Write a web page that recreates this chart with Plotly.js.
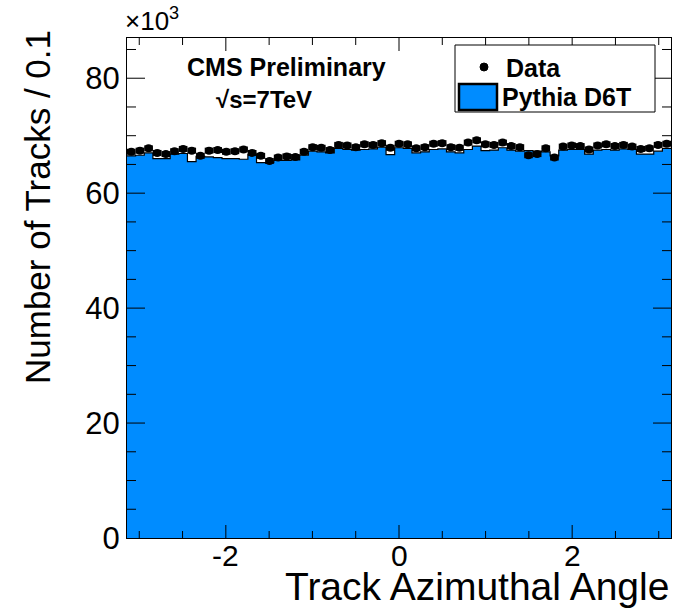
<!DOCTYPE html>
<html>
<head>
<meta charset="utf-8">
<script src="https://cdn.plot.ly/plotly-3.0.1.min.js"></script>
<style>html,body{margin:0;padding:0;background:#fff;}#chart{width:683px;height:608px;}</style>
</head>
<body>
<div id="chart"></div>
<script>
// Track azimuthal angle histogram: 63 bins from -pi to pi, values in units of 10^3 tracks
const phiMin = -Math.PI;
const phiMax = Math.PI;
const nBins = 63;

const dataCounts = [
  67.2, 67.4, 67.8, 67.0, 66.8, 67.3, 67.7, 67.4, 66.5, 67.4,
  67.5, 67.2, 67.3, 67.6, 67.0, 66.5, 65.6, 66.2, 66.4, 66.3,
  67.2, 68.0, 67.9, 67.5, 68.4, 68.3, 68.0, 68.5, 68.4, 68.7,
  67.9, 68.6, 68.5, 67.8, 68.0, 68.6, 68.7, 68.0, 67.9, 68.8,
  69.2, 68.5, 68.4, 68.8, 68.2, 68.0, 66.6, 66.8, 67.8, 66.2,
  68.1, 68.3, 68.2, 67.6, 68.3, 68.5, 68.2, 68.4, 68.1, 67.7,
  67.8, 68.4, 68.6
];

const pythiaCounts = [
  66.5, 66.6, 67.0, 66.0, 66.0, 66.8, 66.9, 65.5, 66.4, 66.3,
  66.2, 66.0, 66.0, 65.9, 66.8, 65.3, 65.3, 65.7, 65.7, 65.8,
  66.6, 67.3, 67.2, 67.0, 67.8, 67.6, 67.5, 67.6, 67.7, 68.0,
  66.7, 67.9, 67.8, 67.0, 67.2, 67.6, 67.7, 67.2, 67.0, 67.6,
  68.2, 67.4, 67.5, 67.9, 67.5, 67.3, 67.4, 67.3, 67.2, 66.5,
  67.5, 67.6, 67.6, 66.8, 67.5, 67.6, 67.5, 67.7, 67.6, 66.8,
  66.8, 67.3, 67.8
];

const xTickVals = [-2, 0, 2];
const xTickText = ['-2', '0', '2'];
const xMinorStep = 0.5;
const yTickVals = [0, 20, 40, 60, 80];
const yTickText = ['0', '20', '40', '60', '80'];
const yMinorStep = 5;

const binW = (phiMax - phiMin) / nBins;
const centers = dataCounts.map((_, i) => phiMin + (i + 0.5) * binW);
const edgesX = pythiaCounts.map((_, i) => phiMin + i * binW).concat([phiMax]);
const edgesY = pythiaCounts.concat([pythiaCounts[pythiaCounts.length - 1]]);

const blue = '#008cff';
const font = 'Liberation Sans, Arial, Helvetica, sans-serif';
const xRange = [phiMin, phiMax];
const yRange = [0, 87];
const plotW = 544, plotH = 500;

const traces = [
  {
    type: 'scatter', mode: 'lines', x: edgesX, y: edgesY,
    line: {shape: 'hv', color: '#000', width: 1.2},
    fill: 'tozeroy', fillcolor: blue, name: 'Pythia D6T', hoverinfo: 'skip'
  },
  {
    type: 'scatter', mode: 'markers', x: centers, y: dataCounts,
    marker: {color: '#000', size: 8, symbol: 'circle'},
    error_x: {type: 'constant', value: binW / 2, thickness: 6, width: 0, color: '#000'},
    name: 'Data'
  }
];

function px(x) { return (x - 127) / plotW; }
function py(y) { return (538 - y) / plotH; }

// ROOT-style tick marks on all four sides, placed through the axis scales
const shapes = [];
function xTick(v, len) {
  shapes.push({type: 'line', xref: 'x', yref: 'paper', x0: v, x1: v, y0: 0, y1: len / plotH, line: {color: 'black', width: 1}});
  shapes.push({type: 'line', xref: 'x', yref: 'paper', x0: v, x1: v, y0: 1, y1: 1 - len / plotH, line: {color: 'black', width: 1}});
}
function yTick(v, len) {
  shapes.push({type: 'line', xref: 'paper', yref: 'y', x0: 0, x1: len / plotW, y0: v, y1: v, line: {color: 'black', width: 1}});
  shapes.push({type: 'line', xref: 'paper', yref: 'y', x0: 1, x1: 1 - len / plotW, y0: v, y1: v, line: {color: 'black', width: 1}});
}
for (let k = Math.ceil(phiMin / xMinorStep); k * xMinorStep <= phiMax; k++) {
  const v = k * xMinorStep;
  xTick(v, xTickVals.some(t => Math.abs(t - v) < 1e-9) ? 13 : 7);
}
for (let k = 0; k * yMinorStep <= yRange[1]; k++) {
  const v = k * yMinorStep;
  if (v === 0) continue;
  yTick(v, yTickVals.indexOf(v) >= 0 ? 18 : 9);
}

// legend drawn in ROOT style
shapes.push(
  {type: 'rect', xref: 'paper', yref: 'paper', x0: px(455), x1: px(655), y0: py(112), y1: py(45),
   line: {color: 'black', width: 1}, fillcolor: 'white', layer: 'above'},
  {type: 'circle', xref: 'paper', yref: 'paper', x0: px(480), x1: px(488), y0: py(71), y1: py(63),
   line: {color: 'black', width: 1}, fillcolor: 'black', layer: 'above'},
  {type: 'rect', xref: 'paper', yref: 'paper', x0: px(459), x1: px(497), y0: py(110), y1: py(84),
   line: {color: 'black', width: 2.5}, fillcolor: blue, layer: 'above'}
);

const annotations = [
  {xref: 'paper', yref: 'paper', x: px(504), y: py(68), xanchor: 'left', yanchor: 'middle', showarrow: false,
   text: '<b>Data</b>', font: {size: 25, family: font, color: 'black'}},
  {xref: 'paper', yref: 'paper', x: px(500), y: py(97), xanchor: 'left', yanchor: 'middle', showarrow: false,
   text: '<b>Pythia D6T</b>', font: {size: 25, family: font, color: 'black'}},
  {xref: 'paper', yref: 'paper', x: px(286), y: py(67), xanchor: 'center', yanchor: 'middle', showarrow: false,
   text: '<b>CMS Preliminary</b>', font: {size: 25, family: font, color: 'black'}},
  {xref: 'paper', yref: 'paper', x: px(264), y: py(99), xanchor: 'center', yanchor: 'middle', showarrow: false,
   text: '<b>√s=7TeV</b>', font: {size: 24, family: font, color: 'black'}},
  {xref: 'paper', yref: 'paper', x: px(123), y: py(20), xanchor: 'left', yanchor: 'middle', showarrow: false,
   text: '×10<sup>3</sup>', font: {size: 26, family: font, color: 'black'}},
  {xref: 'paper', yref: 'paper', x: 1, y: py(586), xanchor: 'right', yanchor: 'middle', showarrow: false,
   text: 'Track Azimuthal Angle', font: {size: 39, family: font, color: 'black'}},
  {xref: 'paper', yref: 'paper', x: px(37), y: py(28), xanchor: 'center', yanchor: 'top', showarrow: false,
   textangle: -90, text: 'Number of Tracks / 0.1', font: {size: 35, family: font, color: 'black'}}
];
// x tick labels placed through the x scale, sitting close to the axis as in the original
xTickVals.forEach((v, i) => annotations.push({
  xref: 'x', yref: 'paper', x: v, y: py(555), xanchor: 'center', yanchor: 'middle', showarrow: false,
  text: xTickText[i], font: {size: 30, family: font, color: 'black'}
}));

const layout = {
  width: 683, height: 608,
  margin: {l: 127, r: 12, t: 38, b: 70},
  showlegend: false,
  xaxis: {
    range: xRange, showticklabels: false, ticks: '',
    showline: true, linecolor: 'black', linewidth: 1, mirror: true,
    showgrid: false, zeroline: false
  },
  yaxis: {
    range: yRange,
    tickvals: yTickVals, ticktext: yTickText, ticks: '',
    showline: true, linecolor: 'black', linewidth: 1, mirror: true,
    showgrid: false, zeroline: false,
    tickfont: {size: 31, family: font, color: 'black'}
  },
  shapes: shapes,
  annotations: annotations
};

Plotly.newPlot('chart', traces, layout, {displayModeBar: false});
</script>
</body>
</html>
